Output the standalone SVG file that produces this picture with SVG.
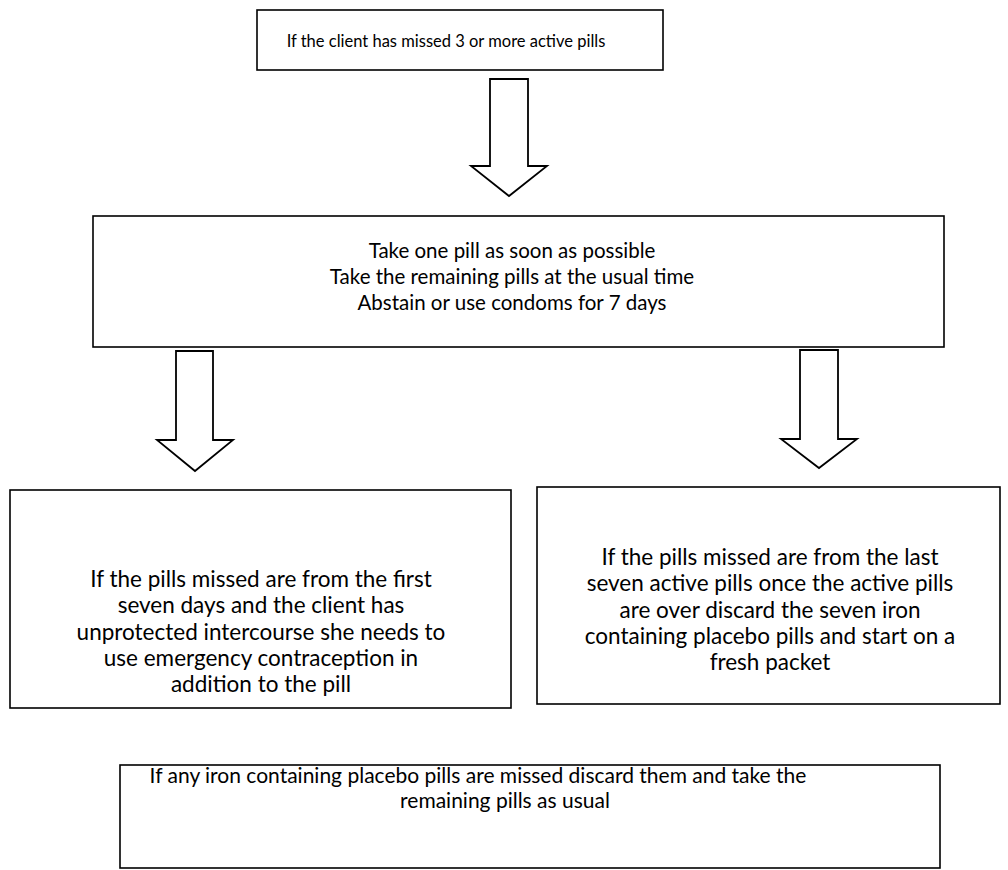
<svg xmlns="http://www.w3.org/2000/svg" width="1008" height="870" viewBox="0 0 1008 870">
<style>
.box{fill:#fff;stroke:#000;stroke-width:1.6}
.arr{fill:#fff;stroke:#000;stroke-width:1.8;stroke-linejoin:miter}
text{font-family:Lato,"Open Sans","Liberation Sans",sans-serif;fill:#000;text-anchor:middle}
.t1{font-size:16.5px}
.t2{font-size:20.5px}
.t3{font-size:22.5px}
.t4{font-size:21px}
</style>
<rect width="1008" height="870" fill="#fff"/>
<g id="connectors">
<polygon class="arr" points="490,79 528,79 528,166 547,166 509,196 471,166 490,166"/>
<polygon class="arr" points="176,351 213,351 213,440 233,440 195,471 157,440 176,440"/>
<polygon class="arr" points="800,350 838,350 838,439 857,439 819,468 781,439 800,439"/>
</g>
<g id="node-start">
<rect class="box" x="257" y="10" width="406" height="60"/>
<text class="t1" x="446" y="47">If the client has missed 3 or more active pills</text>
</g>
<g id="node-action">
<rect class="box" x="93" y="216" width="851" height="131"/>
<text class="t2" x="512" y="258">Take one pill as soon as possible</text>
<text class="t2" x="512" y="284">Take the remaining pills at the usual time</text>
<text class="t2" x="512" y="310">Abstain or use condoms for 7 days</text>
</g>
<g id="node-first">
<rect class="box" x="10" y="490" width="501" height="218"/>
<text class="t3" x="261" y="587">If the pills missed are from the first</text>
<text class="t3" x="261" y="613">seven days and the client has</text>
<text class="t3" x="261" y="640">unprotected intercourse she needs to</text>
<text class="t3" x="261" y="666">use emergency contraception in</text>
<text class="t3" x="261" y="692">addition to the pill</text>
</g>
<g id="node-last">
<rect class="box" x="537" y="487" width="463" height="217"/>
<text class="t3" x="770" y="565">If the pills missed are from the last</text>
<text class="t3" x="770" y="591">seven active pills once the active pills</text>
<text class="t3" x="770" y="618">are over discard the seven iron</text>
<text class="t3" x="770" y="644">containing placebo pills and start on a</text>
<text class="t3" x="770" y="670">fresh packet</text>
</g>
<g id="node-placebo">
<rect class="box" x="120" y="765" width="820" height="103"/>
<text class="t4" x="478" y="783">If any iron containing placebo pills are missed discard them and take the</text>
<text class="t4" x="505" y="808">remaining pills as usual</text>
</g>
</svg>
